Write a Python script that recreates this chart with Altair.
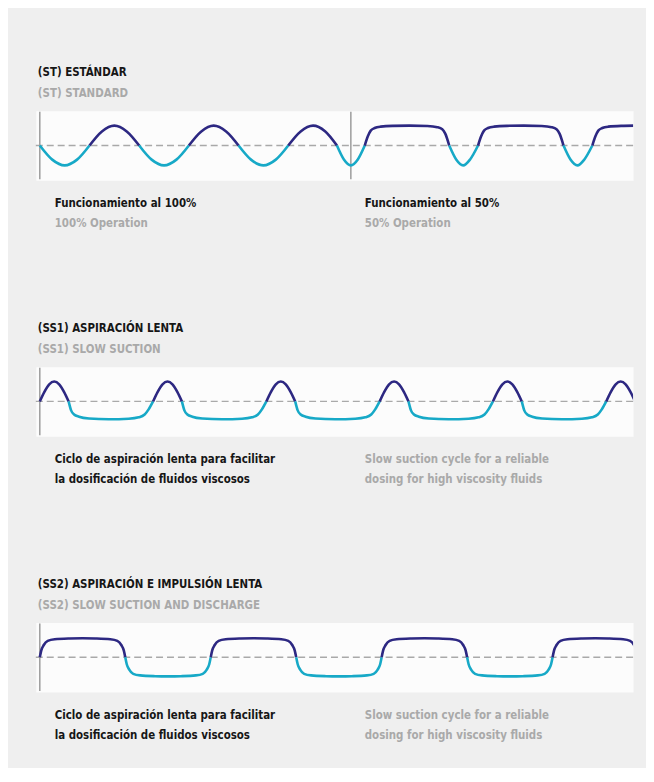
import altair as alt
import pandas as pd

# ---------------- data ----------------
# time axis: 0 = first vertical axis line; amplitude: +1 = full discharge stroke
ST_T = [0, 12.5, 25, 37.5, 50, 62.5, 75, 87.5,
        100, 112.5, 125, 137.5, 150, 162.5, 175, 187.5,
        200, 212.5, 225, 237.5, 250, 262.5, 275, 287, 299,
        306, 313, 320, 327,
        330, 333, 337, 343, 355, 372, 390, 400, 405, 408, 412,
        419, 426, 433, 441,
        444, 447, 451, 457, 470, 487, 505, 515, 520, 523, 527,
        534, 541, 548, 556,
        559, 562, 566, 572, 585, 600]
ST_V = [0, -0.71, -1, -0.71, 0, 0.71, 1, 0.71,
        0, -0.71, -1, -0.71, 0, 0.71, 1, 0.71,
        0, -0.71, -1, -0.71, 0, 0.71, 1, 0.72, 0,
        -0.7, -1, -0.7, 0,
        0.45, 0.75, 0.88, 0.95, 0.99, 1.0, 0.98, 0.92, 0.82, 0.6, 0,
        -0.7, -1, -0.7, 0,
        0.45, 0.75, 0.88, 0.95, 0.99, 1.0, 0.98, 0.92, 0.82, 0.6, 0,
        -0.7, -1, -0.7, 0,
        0.45, 0.75, 0.88, 0.95, 0.99, 1.0]
ST_AXES = [0, 313]

# SS1: one pump stroke (short discharge hump + long slow suction), read relative to its peak
SS1_PEAKS = [14.5, 128.5, 242.5, 356.5, 470.5, 584.5]
SS1_DT = [-14.5, -10, -5, 0, 5, 10, 14.5, 17, 20, 25, 35, 55, 75, 85, 91, 95, 99.5]
SS1_V = [0, 0.47, 0.86, 1.0, 0.86, 0.47, 0, -0.45, -0.66, -0.77, -0.86, -0.9, -0.87, -0.8, -0.66, -0.4, 0]
SS1_AXES = [0]

# SS2: one pump cycle (slow discharge + slow suction), read relative to its rising zero crossing
SS2_STARTS = [0, 172, 344, 516]
SS2_DT = [0, 1.5, 4, 8, 15, 30, 43, 56, 71, 78, 82, 84.5, 86,
          87.5, 90, 94, 101, 116, 129, 142, 157, 164, 168, 170.5, 172]
SS2_V = [0, 0.35, 0.62, 0.83, 0.91, 0.95, 0.96, 0.95, 0.91, 0.83, 0.62, 0.35, 0,
         -0.35, -0.62, -0.83, -0.91, -0.95, -0.96, -0.95, -0.91, -0.83, -0.62, -0.35, 0]
SS2_AXES = [0]

TITLES = ["(ST) ESTÁNDAR", "(SS1) ASPIRACIÓN LENTA", "(SS2) ASPIRACIÓN E IMPULSIÓN LENTA"]
SUBTITLES = ["(ST) STANDARD", "(SS1) SLOW SUCTION", "(SS2) SLOW SUCTION AND DISCHARGE"]
LEFT_NOTES = [["Funcionamiento al 100%", "100% Operation"],
              ["Ciclo de aspiración lenta para facilitar", "la dosificación de fluidos viscosos"],
              ["Ciclo de aspiración lenta para facilitar", "la dosificación de fluidos viscosos"]]
RIGHT_NOTES = [["Funcionamiento al 50%", "50% Operation"],
               ["Slow suction cycle for a reliable", "dosing for high viscosity fluids"],
               ["Slow suction cycle for a reliable", "dosing for high viscosity fluids"]]

# ---------------- styling ----------------
NAVY = "#2d2882"
CYAN = "#17a9c7"
BLACK = "#161616"
GREY = "#a9a9a9"
FONT = "DejaVu Sans Condensed, DejaVu Sans, sans-serif"
FS = 11.5
W, H = 601, 70
XDOM = [-4, 597]
YDOM = [-1.75, 1.75]


def repeat(starts, dt, v):
    pts = {}
    for s in starts:
        for d, val in zip(dt, v):
            pts[round(s + d, 3)] = val
    ts = sorted(pts)
    return ts, [pts[t] for t in ts]


def segments(ts, vs):
    rows, seg, cur = [], 0, []
    for t, v in zip(ts, vs):
        cur.append((t, v))
        if v == 0 and len(cur) > 1:
            sign = "pos" if sum(p[1] for p in cur) > 0 else "neg"
            rows += [dict(t=a, v=b, seg=seg, sign=sign) for a, b in cur]
            seg += 1
            cur = [(t, v)]
    if len(cur) > 1:
        sign = "pos" if sum(p[1] for p in cur) > 0 else "neg"
        rows += [dict(t=a, v=b, seg=seg, sign=sign) for a, b in cur]
    return pd.DataFrame(rows)


def txt(s, x, y, color):
    return alt.Chart(pd.DataFrame({"s": [s]})).mark_text(
        align="left", baseline="alphabetic", font=FONT, fontSize=FS,
        fontWeight="bold", color=color
    ).encode(x=alt.value(x), y=alt.value(y), text="s:N")


def panel(ts, vs, axes, i):
    df = segments(ts, vs)
    xs = alt.Scale(domain=XDOM, nice=False, zero=False)
    ys = alt.Scale(domain=YDOM, nice=False, zero=False)
    zero = alt.Chart(pd.DataFrame({"v": [0.0]})).mark_rule(
        color="#a9a9a9", strokeWidth=1.4, strokeDash=[7, 4]).encode(
        y=alt.Y("v:Q", scale=ys, axis=None))
    vax = alt.Chart(pd.DataFrame({"t": axes})).mark_rule(color="#9c9c9c", strokeWidth=1.5).encode(
        x=alt.X("t:Q", scale=xs, axis=None), y=alt.value(1), y2=alt.value(H - 1))
    line = alt.Chart(df).mark_line(interpolate="monotone", strokeWidth=2.6, clip=True).encode(
        x=alt.X("t:Q", scale=xs, axis=None),
        y=alt.Y("v:Q", scale=ys, axis=None),
        detail="seg:N",
        color=alt.Color("sign:N", scale=alt.Scale(domain=["pos", "neg"], range=[NAVY, CYAN]), legend=None),
    )
    layers = [zero, vax, line,
              txt(TITLES[i], 2, -35, BLACK),
              txt(SUBTITLES[i], 2, -14, GREY),
              txt(LEFT_NOTES[i][0], 19, 97, BLACK),
              txt(LEFT_NOTES[i][1], 19, 117, GREY if i == 0 else BLACK),
              txt(RIGHT_NOTES[i][0], 331, 97, BLACK if i == 0 else GREY),
              txt(RIGHT_NOTES[i][1], 331, 117, GREY)]
    return alt.layer(*layers).properties(width=W, height=H)


p1 = panel(ST_T, ST_V, ST_AXES, 0)
t2, v2 = repeat(SS1_PEAKS, SS1_DT, SS1_V)
p2 = panel(t2, v2, SS1_AXES, 1)
t3, v3 = repeat(SS2_STARTS, SS2_DT, SS2_V)
p3 = panel(t3, v3, SS2_AXES, 2)

chart = alt.vconcat(p1, p2, p3, spacing=92.5).properties(
    padding={"top": 56, "left": 26, "right": 11, "bottom": 24},
    background="#efefef",
).configure_view(fill="#fcfcfc", stroke="transparent")

chart.save("out.html", embed_options={"renderer": "svg", "actions": False})
